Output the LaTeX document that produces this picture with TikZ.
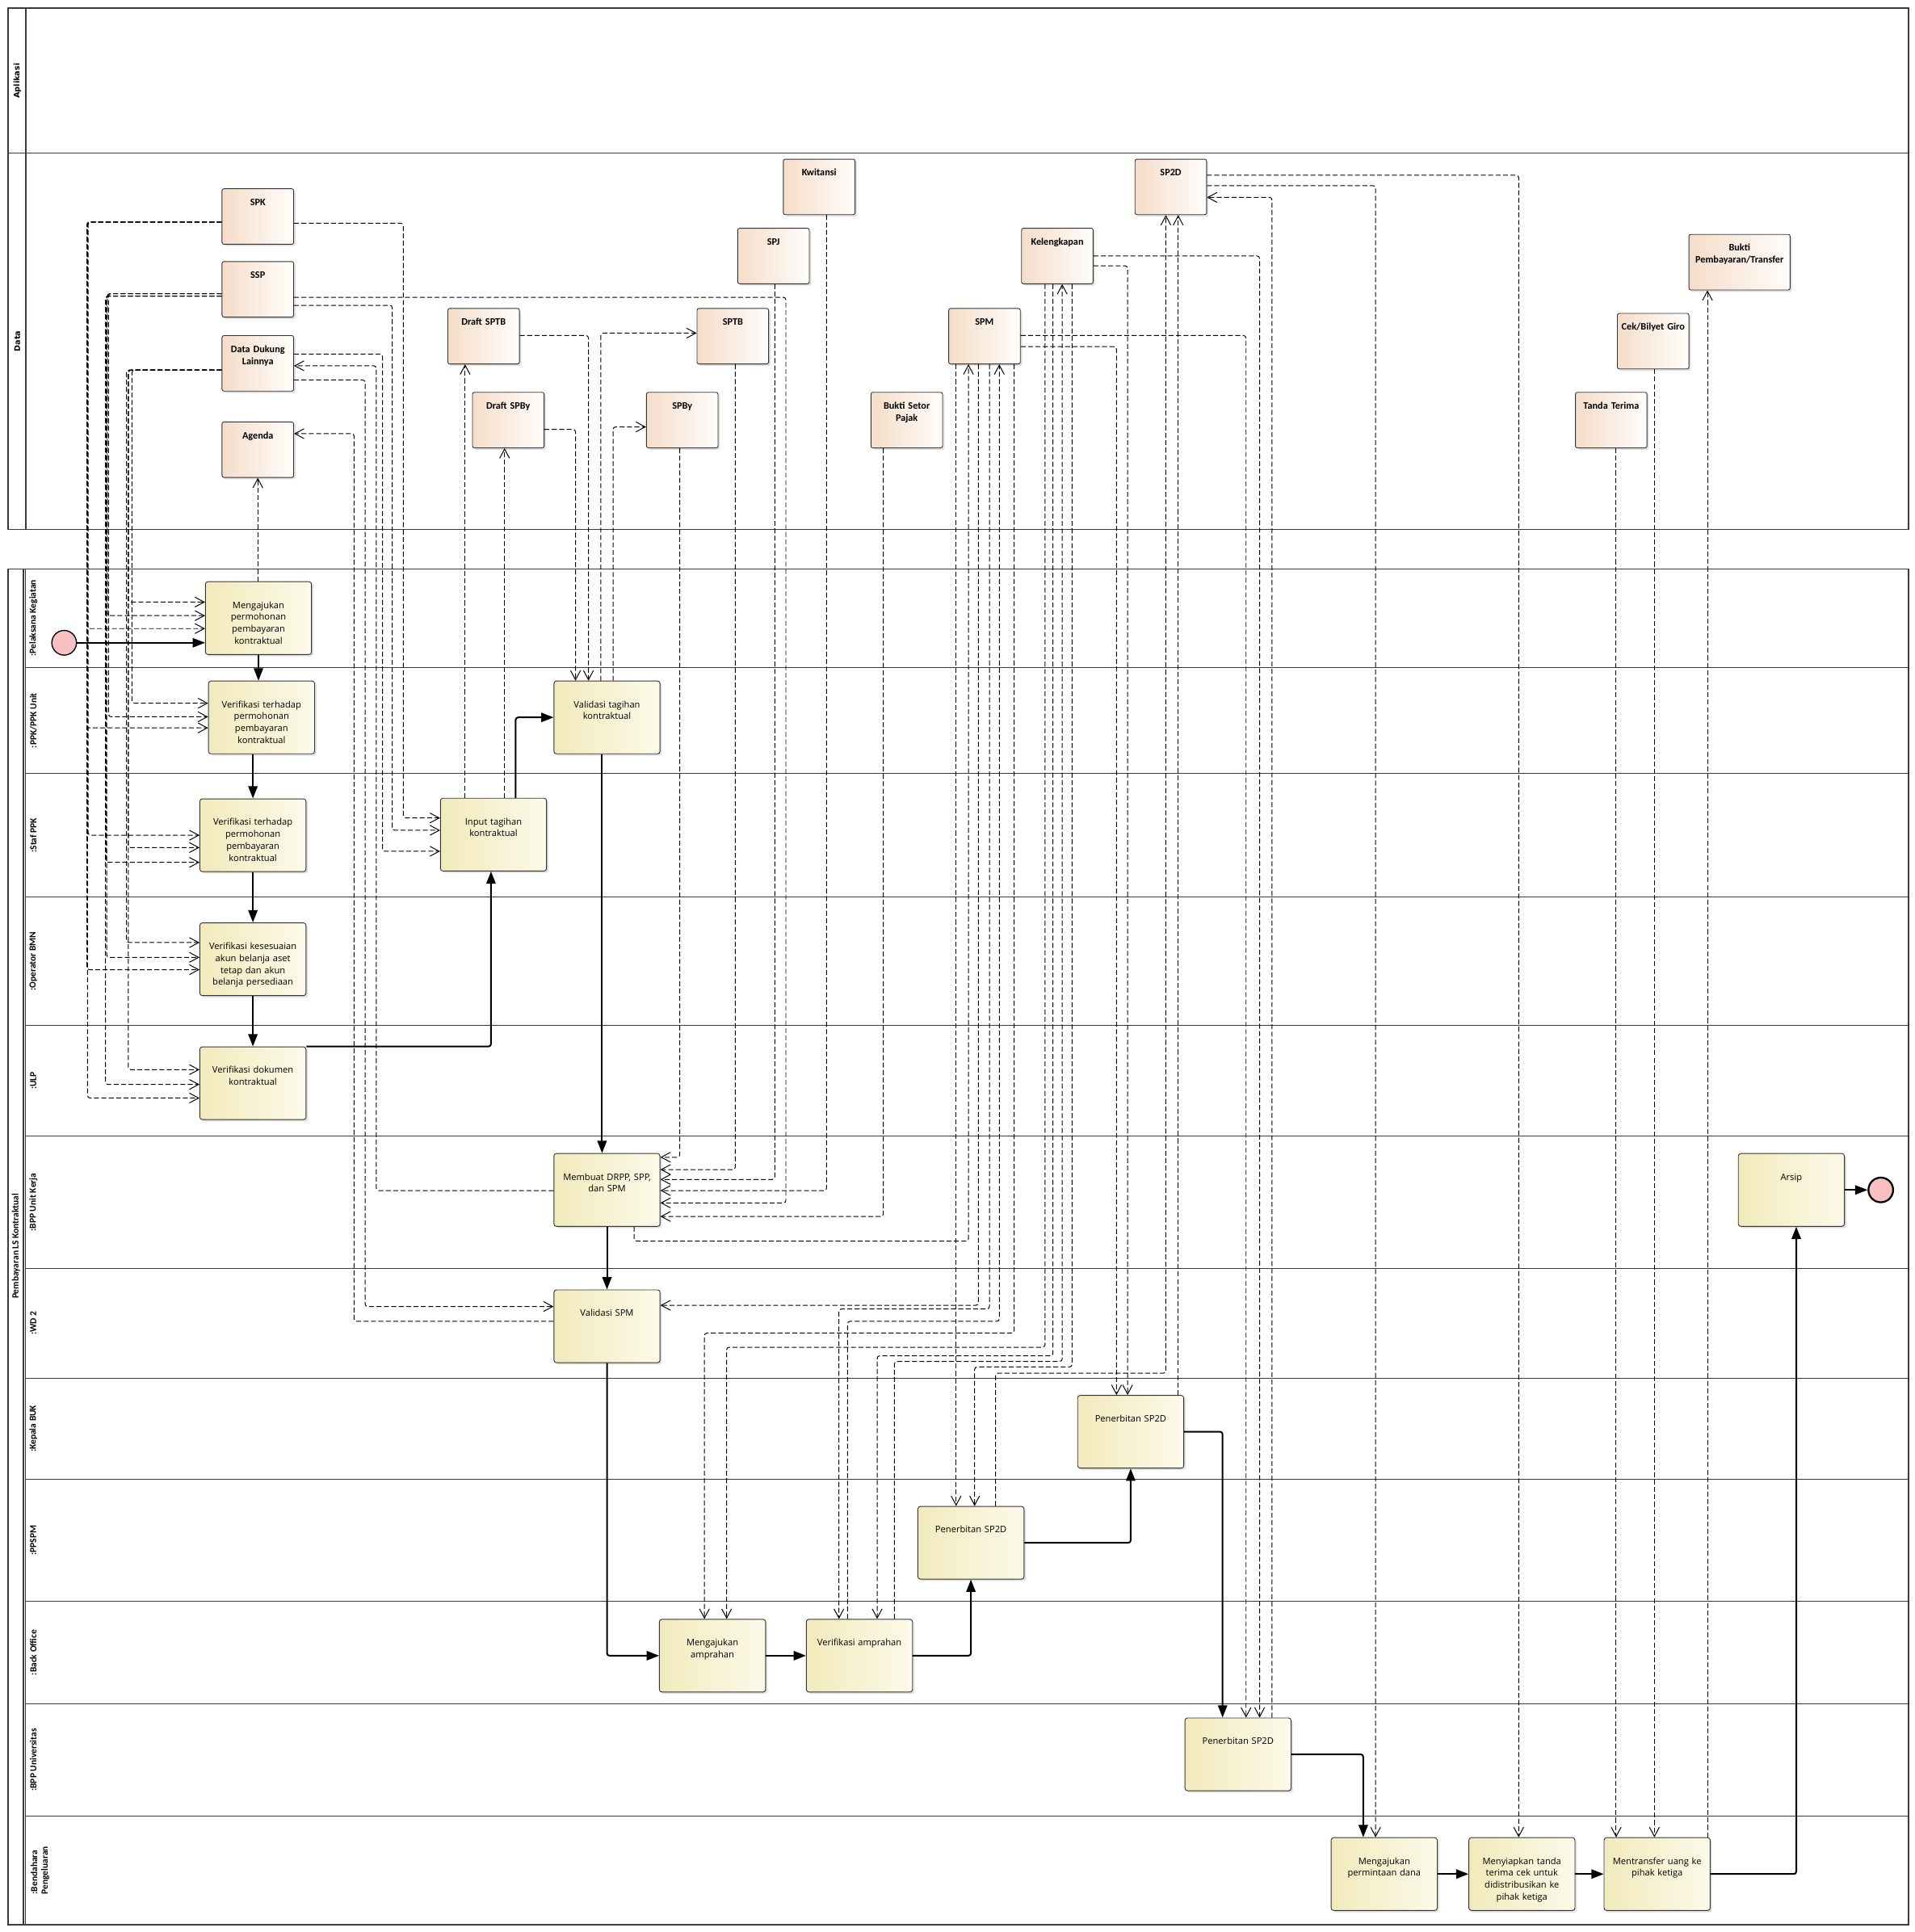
\documentclass[tikz,border=0pt]{standalone}
\usepackage{fontspec}
\setmainfont{Carlito}
\newfontfamily\actfont{Open Sans}
\newfontfamily\hdrfont{DejaVu Sans}
\usepackage{tikz}
\usetikzlibrary{arrows.meta,positioning,calc,shadows}

\definecolor{actL}{HTML}{F2EABC}
\definecolor{actR}{HTML}{FCFAE9}
\definecolor{objL}{HTML}{F5DDC9}
\definecolor{objR}{HTML}{FFFDFB}
\definecolor{evtpink}{HTML}{F8C0C0}
\definecolor{laneline}{HTML}{3A3A3A}

\begin{document}
\begin{tikzpicture}[x=1pt, y=-1pt,
	lanebox/.style={draw=laneline, line width=0.85pt},
	lanelbl/.style={rotate=90, font=\bfseries\fontsize{7.5}{8.5}\selectfont, align=left, inner sep=0pt},
	hdr/.style={rotate=90, font=\hdrfont\bfseries\fontsize{6.3}{7}\selectfont, inner sep=0pt},
	obj/.style={draw=black!80, line width=0.6pt, rounded corners=1.5pt, left color=objL, right color=objR,
		general shadow={fill=black!13, shadow xshift=1.5pt, shadow yshift=-1.5pt},
		font=\bfseries\fontsize{8}{9.8}\selectfont, align=center, text width=56pt,
		inner xsep=1pt, inner ysep=0pt, text height=13.5pt, text depth=31.5pt},
	act/.style={draw=black!80, line width=0.6pt, rounded corners=2pt, left color=actL, right color=actR,
		general shadow={fill=black!13, shadow xshift=1.5pt, shadow yshift=-1.5pt},
		font=\actfont\fontsize{7.3}{9.7}\selectfont, align=center, text width=82pt,
		inner xsep=2pt, inner ysep=0pt, text height=21.5pt, text depth=37.5pt},
	evt/.style={circle, draw=black, line width=0.9pt, fill=evtpink, minimum size=20pt, inner sep=0pt},
	flow/.style={line width=1.3pt, rounded corners=2pt, -{Triangle[length=10pt,width=7.5pt]}},
	dflow/.style={line width=0.65pt, dash pattern=on 4pt off 2pt, rounded corners=2pt, -{Straight Barb[length=7.5pt,width=8pt]}}]

	\useasboundingbox (0,0) rectangle (1552,1566);

	% pools and lanes
	\draw[lanebox] (6.5,6.5) rectangle (1547,429);
	\draw[lanebox] (21,6.5) -- (21,429);
	\draw[lanebox] (6.5,124) -- (1547,124);
	\node (lblapl) [hdr] at (14,65.5) {Aplikasi};
	\node (lbldata) [hdr] at (14,276.5) {Data};

	\draw[lanebox] (6.5,461) rectangle (1547,1560);
	\draw[lanebox] (19,461) -- (19,1560);
	\draw[lanebox] (20.7,461) -- (20.7,1560);
	\foreach \y in {541,627,727,831,921,1028,1117,1199,1298,1381,1472}
		\draw[lanebox] (20.7,\y) -- (1547,\y);
	\node (lblpool) [lanelbl] at (13,1010) {Pembayaran LS Kontraktual};
	\foreach \y/\t in {501/{:Pelaksana Kegiatan}, 584/{:PPK/PPK Unit}, 677/{:Staf PPK}, 779/{:Operator BMN},
		876/{:ULP}, 974.5/{:BPP Unit Kerja}, 1072.5/{:WD 2}, 1158/{:Kepala BUK}, 1248.5/{:PPSPM},
		1339.5/{:Back Office}, 1426.5/{:BPP Universitas}}
		\node [lanelbl] at (27,\y) {\t};
	\node (lblbend) [lanelbl] at (32.5,1516) {:Bendahara\\Pengeluaran};

	% data objects
	\node (spk) [obj] at (209,175.5) {SPK};
	\node (ssp) [obj] at (209,234.5) {SSP};
	\node (dd) [obj] at (209,294.5) {Data Dukung\\Lainnya};
	\node (agenda) [obj] at (209,364.5) {Agenda};
	\node (dsptb) [obj] at (392,272.5) {Draft SPTB};
	\node (dspby) [obj] at (412,340.5) {Draft SPBy};
	\node (sptb) [obj] at (594,272.5) {SPTB};
	\node (spby) [obj] at (553,340.5) {SPBy};
	\node (kwit) [obj] at (664,151.5) {Kwitansi};
	\node (spj) [obj] at (627,207.5) {SPJ};
	\node (bsp) [obj] at (735,340.5) {Bukti Setor\\Pajak};
	\node (spm) [obj] at (798,272.5) {SPM};
	\node (keleng) [obj] at (857,207.5) {Kelengkapan};
	\node (sptwod) [obj] at (949,151.5) {SP2D};
	\node (bukti) [obj, text width=80pt] at (1410,212.5) {Bukti\\Pembayaran/Transfer};
	\node (cek) [obj] at (1340,276.5) {Cek/Bilyet Giro};
	\node (tanda) [obj] at (1306,340.5) {Tanda Terima};

	% activities
	\node (a1) [act] at (209.5,501) {Mengajukan\\permohonan\\pembayaran\\kontraktual};
	\node (a2) [act] at (212,581.5) {Verifikasi terhadap\\permohonan\\pembayaran\\kontraktual};
	\node (a3) [act] at (205,677) {Verifikasi terhadap\\permohonan\\pembayaran\\kontraktual};
	\node (a4) [act] at (205,777.5) {Verifikasi kesesuaian\\akun belanja aset\\tetap dan akun\\belanja persediaan};
	\node (a5) [act] at (205,878) {Verifikasi dokumen\\kontraktual};
	\node (a6) [act] at (400,676.5) {Input tagihan\\kontraktual};
	\node (a7) [act] at (492,581.5) {Validasi tagihan\\kontraktual};
	\node (a8) [act] at (492,964.5) {Membuat DRPP, SPP,\\dan SPM};
	\node (a9) [act] at (492,1075) {Validasi SPM};
	\node (a10) [act] at (916.5,1160.5) {Penerbitan SP2D};
	\node (a11) [act] at (787,1250.5) {Penerbitan SP2D};
	\node (a12) [act] at (577.5,1342) {Mengajukan\\amprahan};
	\node (a13) [act, right=32.5pt of a12] {Verifikasi amprahan};
	\node (a14) [act] at (1003.5,1422) {Penerbitan SP2D};
	\node (a15) [act] at (1122,1519) {Mengajukan\\permintaan dana};
	\node (a16) [act, right=25pt of a15] {Menyiapkan tanda\\terima cek untuk\\didistribusikan ke\\pihak ketiga};
	\node (a17) [act, right=23pt of a16] {Mentransfer uang ke\\pihak ketiga};
	\node (a18) [act] at (1452,964.5) {Arsip};
	\node (start) [evt] at (52,521) {};
	\node (finish) [evt, line width=1.5pt] at (1524.5,964.5) {};

	% sequence flow
	\draw[flow] (start) -- (start -| a1.west);
	\draw[flow] (a1) -- (a1 |- a2.north);
	\draw[flow] (a2.south -| a3) -- (a3);
	\draw[flow] (a3) -- (a4);
	\draw[flow] (a4) -- (a5);
	\draw[flow] (a5.north east) -| ($(a6.south)+(-2,0)$);
	\draw[flow] ($(a6.north)+(18,0)$) |- (a7);
	\draw[flow] ($(a7.south)+(-4,0)$) -- ($(a8.north)+(-4,0)$);
	\draw[flow] (a8) -- (a9);
	\draw[flow] (a9.south) |- (a12);
	\draw[flow] (a12) -- (a13);
	\draw[flow] (a13) -| (a11);
	\draw[flow] (a11) -| (a10);
	\draw[flow] (a10) -| ($(a14.north)+(-12.5,0)$);
	\draw[flow] (a14) -| ($(a15.north)+(-17,0)$);
	\draw[flow] (a15) -- (a16);
	\draw[flow] (a16) -- (a17);
	\draw[flow] (a17) -| ($(a18.south)+(4,0)$);
	\draw[flow] (a18) -- (finish);

	% data flow, left bundle
	\foreach \src/\sy/\vx/\dst/\dy in {
		spk/180/71/a1/509.5, spk/180/70.5/a2/590, spk/180/71.5/a3/677, spk/180/70.5/a4/786, spk/180/71/a5/890,
		ssp/238/87/a1/499, ssp/238/88/a2/581, ssp/240/86/a3/699, ssp/240/86.5/a4/776, ssp/240/85.5/a5/879,
		dd/300/104/a1/488, dd/300/107/a2/570, dd/300/104/a3/687, dd/300/102.5/a4/764, dd/300/104/a5/867}
		\draw[dflow] (\src.west |- 0,\sy) -| (\vx,\dy) -- (\dst.west |- 0,\dy);

	\draw[dflow] (spk.east |- 0,181) -| (327,663) -- (a6.west |- 0,663);
	\draw[dflow] (ssp.east |- 0,247.5) -| (318,673) -- (a6.west |- 0,673);
	\draw[dflow] (dd.east |- 0,287) -| (310,690) -- (a6.west |- 0,690);
	\draw[dflow] (ssp.east |- 0,241) -| (637,975) -- (a8.east |- 0,975);
	\draw[dflow] (a8.west |- 0,965) -| (305,296.5) -- (dd.east |- 0,296.5);
	\draw[dflow] (dd.east |- 0,308) -| (296,1059) -- (a9.west |- 0,1059);
	\draw[dflow] (a9.west |- 0,1071) -| (287,351.5) -- (agenda.east |- 0,351.5);
	\draw[dflow] (a1.north -| agenda) -- (agenda.south);

	% tagihan
	\draw[dflow] (a6.north -| 377,0) -- (dsptb.south -| 377,0);
	\draw[dflow] (a6.north -| 409,0) -- (dspby.south -| 409,0);
	\draw[dflow] (dsptb.east |- 0,272) -| (a7.north -| 477,0);
	\draw[dflow] (dspby.east |- 0,348) -| (a7.north -| 466.5,0);
	\draw[dflow] (a7.north -| 487,0) |- (sptb.west |- 0,270);
	\draw[dflow] (a7.north -| 497,0) |- (spby.west |- 0,346);

	% into Membuat DRPP
	\draw[dflow] (spby.south -| 551,0) |- (a8.east |- 0,938);
	\draw[dflow] (sptb.south -| 596,0) |- (a8.east |- 0,948);
	\draw[dflow] (spj.south -| 628,0) |- (a8.east |- 0,956);
	\draw[dflow] (kwit.south -| 670,0) |- (a8.east |- 0,965);
	\draw[dflow] (bsp.south -| 716,0) |- (a8.east |- 0,986);
	\draw[dflow] (a8.south -| 514,0) |- (785,1006) -- (spm.south -| 785,0);
	\draw[dflow] (spm.south -| 793,0) |- (a9.east |- 0,1058);

	% SPM and Kelengkapan
	\draw[dflow] (spm.south -| 822,0) |- (571,1080.5) -- (a12.north -| 571,0);
	\draw[dflow] (keleng.south -| 847,0) |- (589,1092) -- (a12.north -| 589,0);
	\draw[dflow] (spm.south -| 802,0) |- (680,1061) -- (a13.north -| 680,0);
	\draw[dflow] (a13.north -| 687,0) |- (810,1071) -- (spm.south -| 810,0);
	\draw[dflow] (keleng.south -| 853.5,0) |- (711,1099) -- (a13.north -| 711,0);
	\draw[dflow] (a13.north -| 725,0) |- (861,1103.5) -- (keleng.south -| 861,0);
	\draw[dflow] (spm.south -| 775,0) -- (a11.north -| 775,0);
	\draw[dflow] (keleng.south -| 869,0) |- (790,1108) -- (a11.north -| 790,0);
	\draw[dflow] (a11.north -| 807,0) |- (945,1113) -- (sptwod.south -| 945,0);
	\draw[dflow] (spm.east |- 0,281) -| (a10.north -| 905,0);
	\draw[dflow] (keleng.east |- 0,215.5) -| (a10.north -| 914,0);
	\draw[dflow] (a10.north -| 955,0) -- (sptwod.south -| 955,0);
	\draw[dflow] (spm.east |- 0,272) -| (a14.north -| 1010,0);
	\draw[dflow] (keleng.east |- 0,207.5) -| (a14.north -| 1021,0);
	\draw[dflow] (a14.north -| 1031,0) |- (sptwod.east |- 0,160);

	% SP2D and payment
	\draw[dflow] (sptwod.east |- 0,150.5) -| (a15.north -| 1115,0);
	\draw[dflow] (sptwod.east |- 0,142) -| (a16.north -| 1231,0);
	\draw[dflow] (tanda.south -| 1310,0) -- (a17.north -| 1310,0);
	\draw[dflow] (cek.south -| 1341,0) -- (a17.north -| 1341,0);
	\draw[dflow] (a17.north -| 1384,0) -- (bukti.south -| 1384,0);
\end{tikzpicture}
\end{document}
